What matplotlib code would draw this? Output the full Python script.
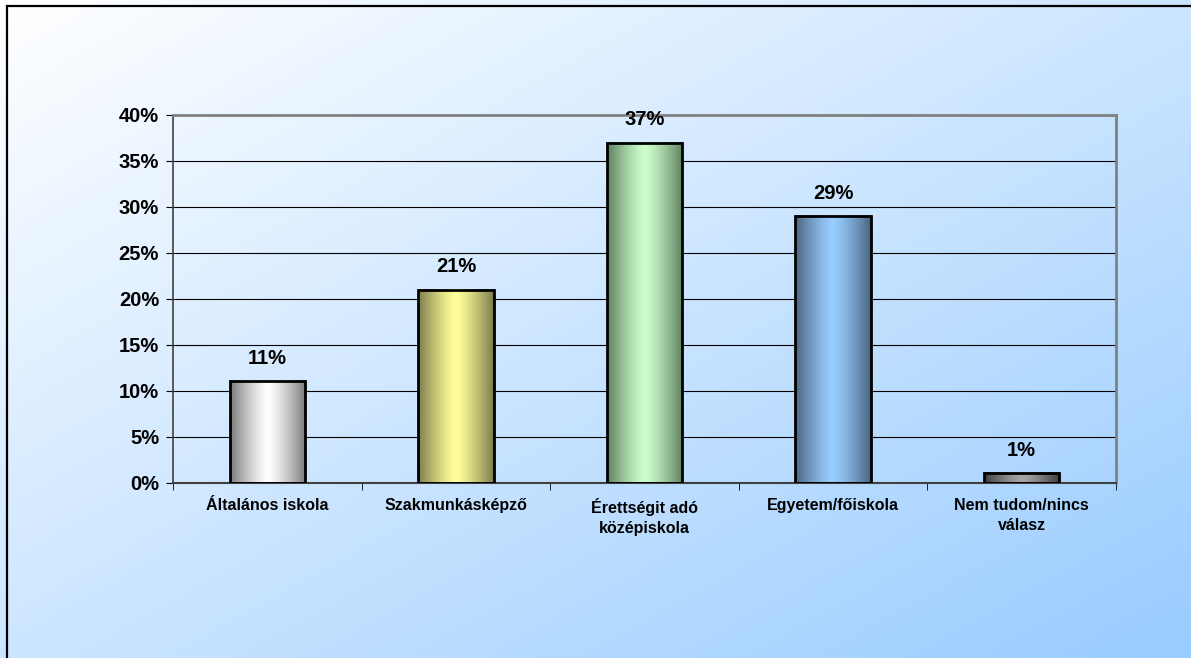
import numpy as np
import matplotlib.pyplot as plt
from matplotlib.colors import LinearSegmentedColormap
from matplotlib.patches import Rectangle

plt.rcParams['font.family'] = ['Liberation Sans', 'DejaVu Sans']
plt.rcParams['font.weight'] = 'bold'

categories = ['Általános iskola', 'Szakmunkásképző', 'Érettségit adó\nközépiskola',
              'Egyetem/főiskola', 'Nem tudom/nincs\nválasz']
values = [11, 21, 37, 29, 1]
# edge colour, centre colour of each bar's shading
bar_edges = ['#7a7a7a', '#7c7c4c', '#5f7f5f', '#4a6580', '#3c3c3c']
bar_centres = ['#ffffff', '#ffff99', '#ccffcc', '#99ccff', '#a6a6a6']
yticks = [0, 5, 10, 15, 20, 25, 30, 35, 40]

fig = plt.figure(figsize=(11.91, 6.58), dpi=100)

# diagonal background: white top-left to light blue bottom-right
bg = fig.add_axes([0, 0, 1, 1], zorder=0)
gx, gy = np.meshgrid(np.linspace(0, 1, 400), np.linspace(0, 1, 300))
grad = (gx + gy) / 2
bg_cmap = LinearSegmentedColormap.from_list('bg', ['#ffffff', '#99ccff'])
bg.imshow(grad, cmap=bg_cmap, aspect='auto', extent=[0, 1, 0, 1], origin='upper')
bg.set_xlim(0, 1)
bg.set_ylim(0, 1)
bg.axis('off')
bg.add_patch(Rectangle((7 / 1191, -1), 3, 2 - 6 / 658, fill=False,
                       edgecolor='black', linewidth=1.6, transform=bg.transAxes,
                       clip_on=False))

ax = fig.add_axes([173 / 1191, 1 - 482.5 / 658, 943 / 1191, 367.5 / 658], zorder=1)
ax.patch.set_alpha(0)

x = np.arange(len(categories))
width = 0.4
prof = np.linspace(-1, 1, 256)
shade = 1 - np.abs(prof) ** 1.3
for xi, v, ec, cc in zip(x, values, bar_edges, bar_centres):
    cmap = LinearSegmentedColormap.from_list('b', [ec, cc])
    ax.imshow(shade[np.newaxis, :], cmap=cmap, aspect='auto',
              extent=[xi - width / 2, xi + width / 2, 0, v], zorder=3)
    ax.bar(xi, v, width=width, facecolor='none', edgecolor='black',
           linewidth=2, zorder=4)
    ax.annotate(f'{v}%', (xi, v), xytext=(0, 16.5), textcoords='offset points',
                ha='center', va='center', fontsize=14.5, fontweight='bold')

ax.set_xlim(-0.5, len(categories) - 0.5)
ax.set_ylim(0, 40)
ax.set_yticks(yticks)
ax.set_yticklabels([f'{t}%' for t in yticks], fontsize=14.5, fontweight='bold')
ax.set_xticks(x)
ax.set_xticklabels(categories, fontsize=11.5, fontweight='bold', linespacing=1.4)
ax.set_xticks(np.arange(len(categories) + 1) - 0.5, minor=True)
ax.tick_params(axis='x', which='major', length=0, pad=11)
ax.tick_params(axis='x', which='minor', length=5, color='black', direction='out')
ax.tick_params(axis='y', length=5, color='black', direction='out', pad=5)

for t in yticks[1:-1]:
    ax.axhline(t, color='black', linewidth=0.8, zorder=2)

ax.spines['top'].set_color('#808080')
ax.spines['right'].set_color('#808080')
ax.spines['top'].set_linewidth(2)
ax.spines['right'].set_linewidth(2)
ax.spines['left'].set_color('#404040')
ax.spines['bottom'].set_color('#404040')
ax.spines['left'].set_linewidth(1.2)
ax.spines['bottom'].set_linewidth(1.5)

fig.savefig('out.png', dpi=100)
